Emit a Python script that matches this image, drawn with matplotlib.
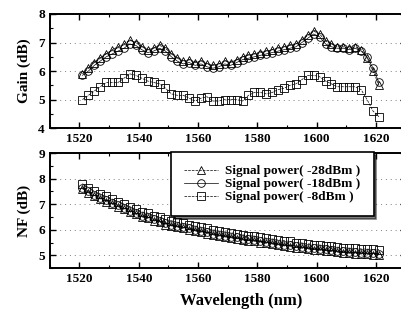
import numpy as np
import matplotlib
matplotlib.use("Agg")
import matplotlib.pyplot as plt
from matplotlib.ticker import MultipleLocator

plt.rcParams['font.family'] = ['Liberation Serif', 'DejaVu Serif']
plt.rcParams['font.weight'] = 'bold'

wl = np.arange(1521, 1622, 2)

gain_m28 = [5.9, 6.1, 6.3, 6.45, 6.6, 6.75, 6.85, 6.95, 7.1, 7.0, 6.85, 6.75, 6.8, 6.9, 6.8, 6.6, 6.45,
            6.35, 6.4, 6.3, 6.35, 6.25, 6.2, 6.25, 6.35, 6.3, 6.4, 6.5, 6.55, 6.6, 6.65, 6.7, 6.75, 6.8,
            6.85, 6.9, 6.95, 7.1, 7.25, 7.4, 7.3, 7.05, 6.95, 6.85, 6.85, 6.8, 6.85, 6.75, 6.45, 6.0, 5.5]
gain_m18 = [5.85, 6.0, 6.2, 6.35, 6.5, 6.6, 6.7, 6.8, 6.95, 6.9, 6.75, 6.65, 6.7, 6.8, 6.7, 6.5, 6.35,
            6.25, 6.3, 6.2, 6.25, 6.15, 6.1, 6.15, 6.25, 6.2, 6.3, 6.4, 6.45, 6.5, 6.55, 6.6, 6.65, 6.7,
            6.75, 6.8, 6.85, 7.0, 7.15, 7.3, 7.2, 6.95, 6.85, 6.8, 6.8, 6.75, 6.8, 6.7, 6.5, 6.1, 5.6]
gain_m8 = [5.0, 5.15, 5.3, 5.45, 5.6, 5.6, 5.6, 5.75, 5.9, 5.85, 5.75, 5.65, 5.6, 5.55, 5.4, 5.2, 5.15,
           5.15, 5.05, 4.95, 5.05, 5.1, 4.95, 4.95, 5.0, 5.0, 5.0, 4.95, 5.15, 5.25, 5.25, 5.2, 5.25, 5.35,
           5.4, 5.5, 5.55, 5.7, 5.85, 5.85, 5.8, 5.65, 5.55, 5.45, 5.45, 5.45, 5.45, 5.35, 5.0, 4.6, 4.4]

nf_m28 = [7.6, 7.45, 7.3, 7.2, 7.1, 7.0, 6.9, 6.8, 6.7, 6.6, 6.5, 6.45, 6.35, 6.3, 6.2, 6.15, 6.1,
          6.05, 6.0, 5.95, 5.9, 5.85, 5.8, 5.75, 5.72, 5.68, 5.65, 5.6, 5.57, 5.55, 5.5, 5.47, 5.44, 5.4,
          5.37, 5.34, 5.3, 5.28, 5.25, 5.22, 5.2, 5.18, 5.15, 5.12, 5.1, 5.08, 5.07, 5.05, 5.04, 5.03, 5.02]
nf_m18 = [7.65, 7.5, 7.35, 7.25, 7.15, 7.05, 6.95, 6.85, 6.75, 6.65, 6.55, 6.5, 6.4, 6.35, 6.25, 6.2, 6.15,
          6.1, 6.05, 6.0, 5.95, 5.9, 5.85, 5.8, 5.77, 5.73, 5.7, 5.65, 5.62, 5.6, 5.55, 5.52, 5.49, 5.45,
          5.42, 5.39, 5.35, 5.33, 5.3, 5.27, 5.25, 5.23, 5.2, 5.17, 5.15, 5.13, 5.12, 5.1, 5.09, 5.08, 5.07]
nf_m8 = [7.8, 7.65, 7.5, 7.4, 7.3, 7.2, 7.1, 7.0, 6.9, 6.8, 6.7, 6.65, 6.55, 6.5, 6.4, 6.35, 6.3,
         6.25, 6.2, 6.15, 6.1, 6.05, 6.0, 5.95, 5.92, 5.88, 5.85, 5.8, 5.77, 5.75, 5.7, 5.67, 5.64, 5.6,
         5.57, 5.54, 5.5, 5.48, 5.45, 5.42, 5.4, 5.38, 5.35, 5.32, 5.3, 5.28, 5.27, 5.25, 5.24, 5.23, 5.22]

labels = ["Signal power( -28dBm )", "Signal power( -18dBm )", "Signal power( -8dBm )"]
markers = ["^", "o", "s"]
styles = ["--", "-", "--"]

fig = plt.figure(figsize=(4.02, 3.11), dpi=100)
ax1 = fig.add_axes([0.124, 0.588, 0.885, 0.367])
ax2 = fig.add_axes([0.124, 0.138, 0.885, 0.37])


def setup(ax, ylabel, ylo, yhi, yticks):
    ax.set_xlim(1510, 1630)
    ax.set_ylim(ylo, yhi)
    ax.set_yticks(yticks)
    ax.set_xticks([1520, 1540, 1560, 1580, 1600, 1620])
    ax.xaxis.set_minor_locator(MultipleLocator(10))
    ax.yaxis.set_minor_locator(MultipleLocator(0.5))
    ax.tick_params(which='both', direction='in', top=True, right=True, labelsize=9.5)
    ax.tick_params(which='major', length=4, width=1)
    ax.tick_params(which='minor', length=2, width=0.8)
    ax.grid(axis='y', linestyle=(0, (1, 4)), color='gray', linewidth=0.7)
    ax.set_ylabel(ylabel, fontsize=11, fontweight='bold', labelpad=5)
    for s in ax.spines.values():
        s.set_linewidth(1.4)


for ys, m, ls, lab in zip([gain_m28, gain_m18, gain_m8], markers, styles, labels):
    ax1.plot(wl, ys, marker=m, linestyle=ls, color='black', lw=0.5, ms=5.5,
             mfc='none', mew=0.6, label=lab)
for ys, m, ls, lab in zip([nf_m28, nf_m18, nf_m8], markers, styles, labels):
    ax2.plot(wl, ys, marker=m, linestyle=ls, color='black', lw=0.5, ms=5.5,
             mfc='none', mew=0.6, label=lab)

setup(ax1, "Gain (dB)", 4, 8, [4, 5, 6, 7, 8])
setup(ax2, "NF (dB)", 4.5, 9, [5, 6, 7, 8, 9])
ax2.set_xlabel("Wavelength (nm)", fontsize=12, fontweight='bold')
ax2.xaxis.set_label_coords(0.537, -0.215)

leg = ax2.legend(loc='upper left', bbox_to_anchor=(171 / 402, 1 - 152 / 311),
                 bbox_transform=fig.transFigure, fontsize=9.5, frameon=True,
                 fancybox=False, shadow={'color': 'black'}, edgecolor='black',
                 framealpha=1, handlelength=2.6, borderpad=1.0, labelspacing=0.05,
                 handletextpad=0.5, borderaxespad=0)
leg.get_frame().set_linewidth(1.2)

fig.savefig("out.png", dpi=100)
